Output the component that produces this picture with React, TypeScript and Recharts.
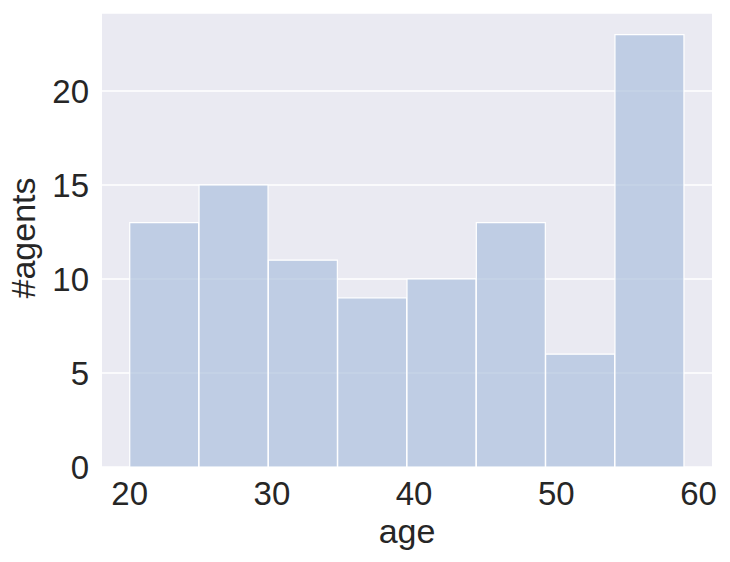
import React from 'react';
import { ComposedChart, Bar, XAxis, YAxis, CartesianGrid, Label, Text } from 'recharts';

// histogram bins (age 20..59, 8 bins)
const ageBinEdges = [20, 24.875, 29.75, 34.625, 39.5, 44.375, 49.25, 54.125, 59];
const agentCounts = [13, 15, 11, 9, 10, 13, 6, 23];
const xTicks = [20, 30, 40, 50, 60];
const yTicks = [0, 5, 10, 15, 20];

const data = agentCounts.map((count, i) => ({
  age: (ageBinEdges[i] + ageBinEdges[i + 1]) / 2,
  agents: count,
}));

const textColor = '#262626';
const fontFamily = '"Liberation Sans", Arial, sans-serif';

const YLabel = ({ viewBox }: any) => (
  <Text
    x={viewBox.x + 23}
    y={viewBox.y + viewBox.height / 2 - 2}
    angle={-90}
    textAnchor="middle"
    verticalAnchor="middle"
    fill={textColor}
    fontSize={34}
    fontFamily={fontFamily}
  >
    #agents
  </Text>
);

export default function App() {
  return (
    <div style={{ position: 'absolute', left: 0, top: 0, background: '#fff' }}>
      <ComposedChart
        width={730}
        height={562}
        data={data}
        margin={{ top: 13, right: 18, left: 0, bottom: 0 }}
        barCategoryGap={0}
        barGap={0}
      >
        <CartesianGrid
          vertical={false}
          fill="#eaeaf2"
          stroke="#ffffff"
          strokeWidth={1.6}
        />
        <XAxis
          dataKey="age"
          type="number"
          domain={[18.05, 60.95]}
          ticks={xTicks}
          axisLine={false}
          tickLine={false}
          tickMargin={9}
          height={95}
          tick={{ fill: textColor, fontSize: 33, fontFamily }}
        >
          <Label
            value="age"
            position="insideBottom"
            offset={19}
            fill={textColor}
            fontSize={34}
            fontFamily={fontFamily}
          />
        </XAxis>
        <YAxis
          type="number"
          domain={[0, 24.15]}
          ticks={yTicks}
          axisLine={false}
          tickLine={false}
          tickMargin={7}
          width={102}
          tick={{ fill: textColor, fontSize: 33, fontFamily }}
        >
          <Label content={<YLabel />} />
        </YAxis>
        <Bar
          dataKey="agents"
          fill="rgb(174,194,222)"
          fillOpacity={0.72}
          stroke="#ffffff"
          strokeWidth={1.2}
          isAnimationActive={false}
        />
      </ComposedChart>
    </div>
  );
}
